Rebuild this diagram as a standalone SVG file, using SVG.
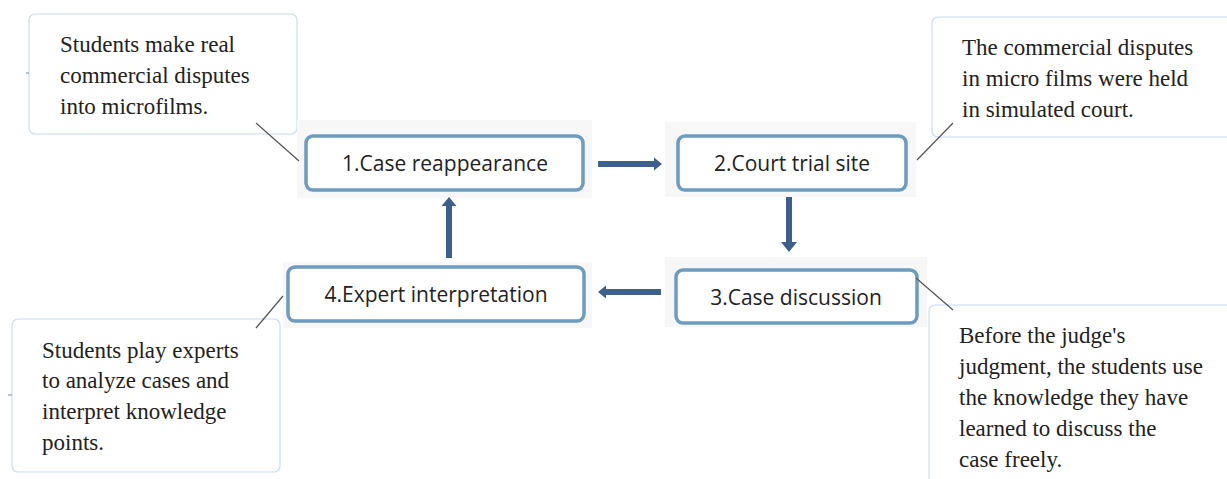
<svg xmlns="http://www.w3.org/2000/svg" width="1227" height="479" viewBox="0 0 1227 479">
<style>
.bg{fill:#f7f7f7}
.node{fill:#ffffff;stroke:#6e9cbf;stroke-width:3.5}
.lbl{font-family:"Open Sans","Noto Sans",sans-serif;font-size:21px;fill:#222;text-anchor:middle}
.note{fill:#ffffff;stroke:#c8dcf2;stroke-width:1.2}
.nt{font-family:"Liberation Serif","Times New Roman",serif;font-size:23px;fill:#222}
.lead{stroke:#555;stroke-width:1.2;fill:none}
.arr{fill:#3c5f8c}
</style>
<rect width="1227" height="479" fill="#ffffff"/>
<g id="note1">
<rect class="note" x="29" y="14" width="268" height="120" rx="6"/>
<text class="nt" x="60" y="52">Students make real</text>
<text class="nt" x="60" y="83">commercial disputes</text>
<text class="nt" x="60" y="114">into microfilms.</text>
</g>
<g id="note2">
<rect class="note" x="932" y="17" width="300" height="120" rx="6"/>
<text class="nt" x="962" y="55">The commercial disputes</text>
<text class="nt" x="962" y="86">in micro films were held</text>
<text class="nt" x="962" y="117">in simulated court.</text>
</g>
<g id="note3">
<rect class="note" x="929" y="305" width="310" height="190" rx="6"/>
<text class="nt" x="959" y="343">Before the judge's</text>
<text class="nt" x="959" y="374">judgment, the students use</text>
<text class="nt" x="959" y="405">the knowledge they have</text>
<text class="nt" x="959" y="436">learned to discuss the</text>
<text class="nt" x="959" y="467">case freely.</text>
</g>
<g id="note4">
<rect class="note" x="12" y="319" width="268" height="153" rx="6"/>
<text class="nt" x="42" y="358">Students play experts</text>
<text class="nt" x="42" y="388">to analyze cases and</text>
<text class="nt" x="42" y="419">interpret knowledge</text>
<text class="nt" x="42" y="450">points.</text>
</g>
<g id="node1">
<rect class="bg" x="297" y="120" width="295" height="78"/>
<rect class="node" x="306" y="136" width="277" height="54" rx="7"/>
<text class="lbl" x="445" y="171">1.Case reappearance</text>
</g>
<g id="node2">
<rect class="bg" x="665" y="122" width="251" height="75"/>
<rect class="node" x="678" y="136" width="228" height="54" rx="7"/>
<text class="lbl" x="792" y="171">2.Court trial site</text>
</g>
<g id="node3">
<rect class="bg" x="665" y="257" width="262" height="70"/>
<rect class="node" x="676" y="270" width="241" height="53" rx="7"/>
<text class="lbl" x="796" y="305">3.Case discussion</text>
</g>
<g id="node4">
<rect class="bg" x="283" y="262" width="309" height="66"/>
<rect class="node" x="288" y="267" width="296" height="54" rx="7"/>
<text class="lbl" x="436" y="302">4.Expert interpretation</text>
</g>
<g id="connectors">
<polygon class="arr" points="598,161 654,161 654,157.5 662,164 654,170.5 654,167 598,167"/>
<polygon class="arr" points="786,197 792,197 792,242 797,242 789,252 781,242 786,242"/>
<polygon class="arr" points="661,289 606,289 606,285.5 598,292 606,298.5 606,295 661,295"/>
<polygon class="arr" points="446,258 452,258 452,206 456.5,206 449,197 441.5,206 446,206"/>
<line class="lead" x1="256" y1="123" x2="299" y2="161"/>
<line class="lead" x1="917" y1="160" x2="953" y2="123"/>
<line class="lead" x1="916" y1="278" x2="953" y2="310"/>
<line class="lead" x1="256" y1="328" x2="283" y2="296"/>
<line stroke="#6e8fb5" stroke-width="1" x1="26" y1="73" x2="29" y2="73"/>
<line stroke="#6e8fb5" stroke-width="1" x1="8" y1="395" x2="12" y2="395"/>
</g>
</svg>
